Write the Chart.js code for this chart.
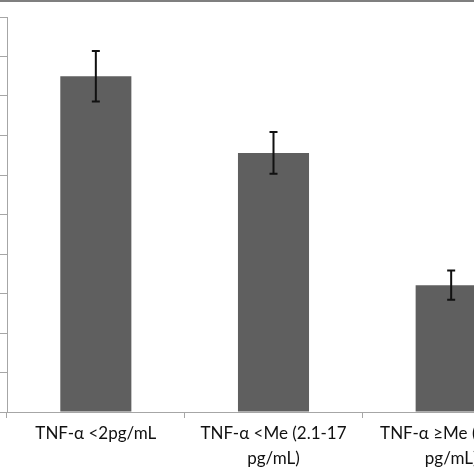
<!DOCTYPE html>
<html>
<head>
<meta charset="utf-8">
<script src="https://cdn.jsdelivr.net/npm/chart.js@4/dist/chart.umd.min.js"></script>
<style>
  html, body { margin: 0; padding: 0; background: #fff; overflow: hidden; }
  #wrap { position: relative; width: 474px; height: 474px; overflow: hidden; }
  #band { position: absolute; left: 0; top: 0; width: 474px; height: 2px; background: #7f7f7f; }
  #chart { position: absolute; left: 0; top: 0; }
</style>
</head>
<body>
<div id="wrap">
  <canvas id="chart" width="540" height="474"></canvas>
  <div id="band"></div>
</div>
<script>
// ---------- TNF-alpha groups ----------
var categories = [
  "TNF-α <2pg/mL",
  ["TNF-α <Me (2.1-17", "pg/mL)"],
  ["TNF-α ≥Me (17-55", "pg/mL)"]
];
var values = [8.5, 6.56, 3.21];
var errors = [0.64, 0.53, 0.37];
var yTicks = [0, 1, 2, 3, 4, 5, 6, 7, 8, 9, 10];

// error bars drawn from the scales
var errorBars = {
  id: 'errorBars',
  afterDatasetsDraw: function(chart) {
    var ctx = chart.ctx;
    var x = chart.scales.x, y = chart.scales.y;
    ctx.save();
    ctx.strokeStyle = '#111';
    ctx.lineWidth = 2;
    values.forEach(function(v, i) {
      var px = x.getPixelForValue(i);
      var top = y.getPixelForValue(v + errors[i]);
      var bot = y.getPixelForValue(v - errors[i]);
      ctx.beginPath();
      ctx.moveTo(px, top); ctx.lineTo(px, bot);
      ctx.moveTo(px - 4, top); ctx.lineTo(px + 4, top);
      ctx.moveTo(px - 4, bot); ctx.lineTo(px + 4, bot);
      ctx.stroke();
    });
    ctx.restore();
  }
};

var ctx = document.getElementById("chart").getContext('2d');
var myChart = new Chart(ctx, {
  type: 'bar',
  data: {
    labels: categories,
    datasets: [{
      data: values,
      backgroundColor: '#5f5f5f',
      barPercentage: 0.4,
      categoryPercentage: 1
    }]
  },
  options: {
    responsive: false,
    animation: false,
    layout: { padding: { top: 17, left: 0, right: 0, bottom: 0 } },
    plugins: { legend: { display: false }, tooltip: { enabled: false } },
    scales: {
      x: {
        offset: true,
        grid: { offset: true, drawOnChartArea: false, color: '#a6a6a6', tickLength: 6 },
        border: { color: '#a6a6a6', width: 1 },
        ticks: {
          color: '#111',
          font: { family: 'Lato', size: 17, lineHeight: '25px' },
          padding: 3,
          maxRotation: 0,
          autoSkip: false
        }
      },
      y: {
        min: yTicks[0],
        max: yTicks[yTicks.length - 1],
        afterBuildTicks: function(axis) {
          axis.ticks = yTicks.map(function(v) { return { value: v }; });
        },
        afterFit: function(axis) { axis.width = 7; },
        grid: { drawOnChartArea: false, color: '#a6a6a6', tickLength: 7 },
        border: { color: '#a6a6a6', width: 1 },
        ticks: { display: false }
      }
    }
  },
  plugins: [errorBars]
});
</script>
</body>
</html>
